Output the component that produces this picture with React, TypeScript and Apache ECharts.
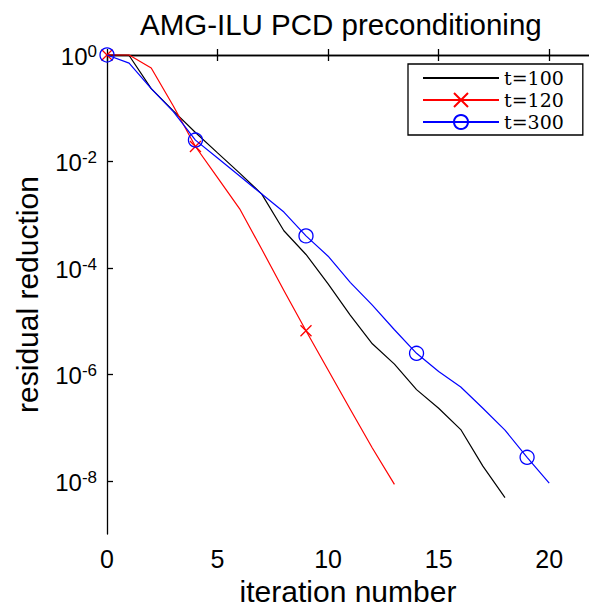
import React, { useEffect, useRef } from 'react';
import * as echarts from 'echarts';

// residual reduction per iteration
const t100 = [1, 0.98, 0.233, 0.0891, 0.035, 0.0145, 0.00605, 0.00244, 5.0e-4, 1.79e-4, 5.0e-5, 1.3e-5, 3.76e-6, 1.56e-6, 5.18e-7, 2.31e-7, 9.2e-8, 1.89e-8, 4.86e-9];
const t120 = [1, 1, 0.569, 0.11, 0.0191, 0.00497, 0.00129, 2.24e-4, 3.77e-5, 6.6e-6, 1.21e-6, 2.22e-7, 4.15e-8, 8.6e-9];
const t300 = [1, 0.703, 0.233, 0.0865, 0.0252, 0.0116, 0.00533, 0.00244, 0.00112, 4.0e-4, 1.66e-4, 5.36e-5, 2.0e-5, 6.9e-6, 2.49e-6, 1.13e-6, 5.8e-7, 2.31e-7, 8.97e-8, 2.77e-8, 9.1e-9];
const markerIndices = [0, 4, 9, 14, 19];
const xTicks = [0, 5, 10, 15, 20];
const yTickExponents = [0, -2, -4, -6, -8];
const legendNames = ['t=100', 't=120', 't=300'];
const titleText = 'AMG-ILU PCD preconditioning';
const xName = 'iteration number';
const yName = 'residual reduction';

const SANS = '"Liberation Sans", Arial, sans-serif';
const SERIF = '"DejaVu Serif", serif';

function toData(vals: number[], markers: boolean) {
  return vals.map((v, i) =>
    markers && markerIndices.includes(i)
      ? { value: [i, Math.log10(v)] }
      : { value: [i, Math.log10(v)], symbol: 'none' }
  );
}

export default function App() {
  const ref = useRef<HTMLDivElement>(null);
  useEffect(() => {
    if (!ref.current) return;
    const chart = echarts.init(ref.current, null, { renderer: 'svg' });
    const axisLine = { show: true, lineStyle: { color: '#000', width: 1.3 } };
    const tick = { inside: true, length: 6, lineStyle: { color: '#000', width: 1.3 }, customValues: xTicks };
    const xMax = 21.8;
    chart.setOption({
      animation: false,
      backgroundColor: '#fff',
      title: {
        text: titleText,
        left: 140,
        top: 9,
        padding: 0,
        textStyle: { fontFamily: SANS, fontSize: 29.5, fontWeight: 'normal', color: '#000' },
      },
      grid: { left: 107, top: 55, right: 0, height: 488, containLabel: false },
      legend: {
        orient: 'vertical',
        left: 408,
        top: 64,
        padding: [3, 19, 2, 14],
        itemWidth: 76,
        itemHeight: 17.5,
        itemGap: 0,
        selectedMode: false,
        backgroundColor: '#fff',
        borderColor: '#000',
        borderWidth: 1.3,
        borderRadius: 0,
        data: [
          { name: legendNames[0], itemStyle: { color: 'rgba(0,0,0,0)', borderWidth: 0, opacity: 0 } },
          { name: legendNames[1] },
          { name: legendNames[2] },
        ],
        textStyle: { fontFamily: SERIF, fontSize: 19, lineHeight: 22, color: '#000' },
      },
      xAxis: [
        {
          type: 'value',
          min: 0,
          max: xMax,
          interval: 5,
          position: 'bottom',
          name: xName,
          nameLocation: 'middle',
          nameGap: 40,
          nameTextStyle: { fontFamily: SANS, fontSize: 30, color: '#000' },
          axisLine,
          axisTick: tick,
          splitLine: { show: false },
          axisLabel: { customValues: xTicks, margin: 12, fontFamily: SANS, fontSize: 25, color: '#000' },
        },
        {
          type: 'value',
          min: 0,
          max: xMax,
          interval: 5,
          position: 'top',
          axisLine,
          axisTick: tick,
          splitLine: { show: false },
          axisLabel: { show: false },
        },
      ],
      yAxis: [
        {
          type: 'value',
          min: -9,
          max: 0,
          position: 'left',
          name: yName,
          nameLocation: 'middle',
          nameGap: 65,
          nameTextStyle: { fontFamily: SANS, fontSize: 30, color: '#000' },
          axisLine,
          axisTick: { inside: true, length: 6, lineStyle: { color: '#000', width: 1.3 }, customValues: yTickExponents },
          splitLine: { show: false },
          axisLabel: {
            customValues: yTickExponents,
            margin: 10,
            formatter: (v: number) => `{b|10}{e|${v}}`,
            rich: {
              b: { fontFamily: SANS, fontSize: 24, lineHeight: 24, padding: [3, 0, 0, 0], color: '#000' },
              e: { fontFamily: SANS, fontSize: 17, lineHeight: 17, verticalAlign: 'top', color: '#000' },
            },
          },
        },
      ],
      series: [
        {
          name: legendNames[0],
          type: 'line',
          data: toData(t100, false),
          symbol: 'none',
          clip: false,
          lineStyle: { color: '#000', width: 1.2 },
          itemStyle: { color: '#000' },
          z: 2,
        },
        {
          name: legendNames[1],
          type: 'line',
          data: toData(t120, true),
          symbol: 'path://M0 0L10 10M10 0L0 10',
          symbolSize: 11,
          showAllSymbol: true,
          clip: false,
          lineStyle: { color: '#ff0000', width: 1.2 },
          itemStyle: { color: 'rgba(0,0,0,0)', borderColor: '#ff0000', borderWidth: 1.3 },
          z: 3,
        },
        {
          name: legendNames[2],
          type: 'line',
          data: toData(t300, true),
          symbol: 'circle',
          symbolSize: 14,
          showAllSymbol: true,
          clip: false,
          lineStyle: { color: '#0000ff', width: 1.2 },
          itemStyle: { color: 'rgba(0,0,0,0)', borderColor: '#0000ff', borderWidth: 1.3 },
          z: 4,
        },
      ],
    });
    return () => chart.dispose();
  }, []);
  return <div ref={ref} style={{ position: 'fixed', left: 0, top: 0, width: 589, height: 611 }} />;
}
